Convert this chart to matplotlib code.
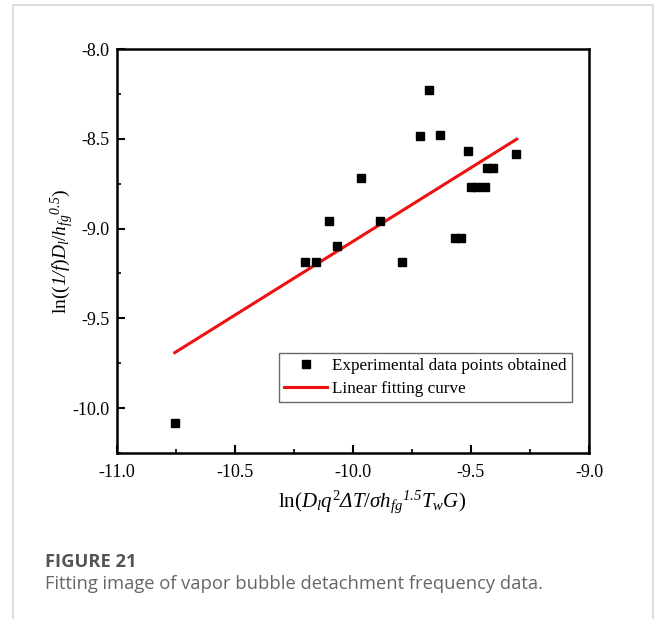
import matplotlib
matplotlib.use("Agg")
import matplotlib.pyplot as plt
from matplotlib.patches import Rectangle
from matplotlib.ticker import MultipleLocator

plt.rcParams['mathtext.fontset'] = 'custom'
plt.rcParams['mathtext.rm'] = 'Liberation Serif'
plt.rcParams['mathtext.it'] = 'Liberation Serif:italic'
plt.rcParams['mathtext.sf'] = 'Liberation Serif:italic'
plt.rcParams['mathtext.bf'] = 'Liberation Serif:bold'

# Data
exp_x = [-10.754, -10.201, -10.155, -10.103, -10.068, -9.966, -9.886, -9.791,
         -9.715, -9.676, -9.629, -9.567, -9.540, -9.512, -9.499, -9.475,
         -9.440, -9.430, -9.405, -9.311]
exp_y = [-10.084, -9.188, -9.188, -8.957, -9.099, -8.717, -8.957, -9.188,
         -8.485, -8.230, -8.478, -9.050, -9.050, -8.567, -8.768, -8.768,
         -8.768, -8.662, -8.662, -8.587]
fit_x = [-10.754, -9.306]
fit_y = [-9.691, -8.502]

x_ticks = [-11.0, -10.5, -10.0, -9.5, -9.0]
y_ticks = [-10.0, -9.5, -9.0, -8.5, -8.0]

fig = plt.figure(figsize=(6.56, 6.19), dpi=100)
fig.patch.set_facecolor('white')

# card frame
fig.patches.append(Rectangle((13/656, -0.1), (653-13)/656, 1.1 - 5/619,
                             transform=fig.transFigure, fill=False,
                             edgecolor='#d6d6d6', linewidth=1.2))

ax = fig.add_axes([116.7/656, 1-453/619, (589-116.7)/656, (453-49)/619])

ax.plot(exp_x, exp_y, 's', color='black', markersize=6.2, linestyle='none',
        label='Experimental data points obtained', zorder=3)
ax.plot(fit_x, fit_y, '-', color='#ee1111', linewidth=2.2,
        label='Linear fitting curve', zorder=2)

ax.set_xlim(-11.0, -9.0)
ax.set_ylim(-10.25, -8.0)
ax.set_xticks(x_ticks)
ax.set_yticks(y_ticks)
ax.set_xticklabels([f'{v:.1f}' for v in x_ticks])
ax.set_yticklabels([f'{v:.1f}' for v in y_ticks])
ax.xaxis.set_minor_locator(MultipleLocator(0.25))
ax.yaxis.set_minor_locator(MultipleLocator(0.25))

for lab in ax.get_xticklabels() + ax.get_yticklabels():
    lab.set_fontfamily('Liberation Serif')
    lab.set_fontsize(13)

ax.tick_params(which='major', direction='in', length=5.5, width=1.5,
               top=False, right=False)
ax.tick_params(which='minor', direction='in', length=3, width=1.2,
               top=False, right=False)
ax.tick_params(axis='x', which='major', pad=8)
ax.tick_params(axis='y', which='major', pad=5)

for sp in ax.spines.values():
    sp.set_linewidth(1.8)

ax.set_xlabel(r'$\mathrm{ln}(D_l q^2 \mathsf{ΔT}/\sigma h_{fg}{}^{\mathsf{1.5}} T_w G)$',
              fontsize=15)
ax.xaxis.set_label_coords(0.541, -0.087)
ax.set_ylabel(r'$\mathrm{ln}((\mathsf{1/f})D_l/h_{fg}{}^{\mathsf{0.5}})$',
              fontsize=14)
ax.yaxis.set_label_coords(-0.086, 0.50)

leg = ax.legend(loc='upper left', bbox_to_anchor=(0.344, 0.2475),
                borderaxespad=0, frameon=True, fancybox=False,
                edgecolor='#444444', prop={'family': 'Liberation Serif', 'size': 12.3},
                handlelength=2.5, handletextpad=0.3, borderpad=0.3,
                labelspacing=0.4, numpoints=1)
leg.get_frame().set_linewidth(1.0)

fig.text(45/656, 1-562/619, 'FIGURE 21', fontfamily='Open Sans', fontweight='bold',
         fontsize=13.2, color='#555555', va='center', ha='left')
fig.text(45/656, 1-584/619, 'Fitting image of vapor bubble detachment frequency data.',
         fontfamily='Open Sans', fontsize=13.2, color='#666666', va='center', ha='left')

fig.savefig('out.png', dpi=100, facecolor='white')
